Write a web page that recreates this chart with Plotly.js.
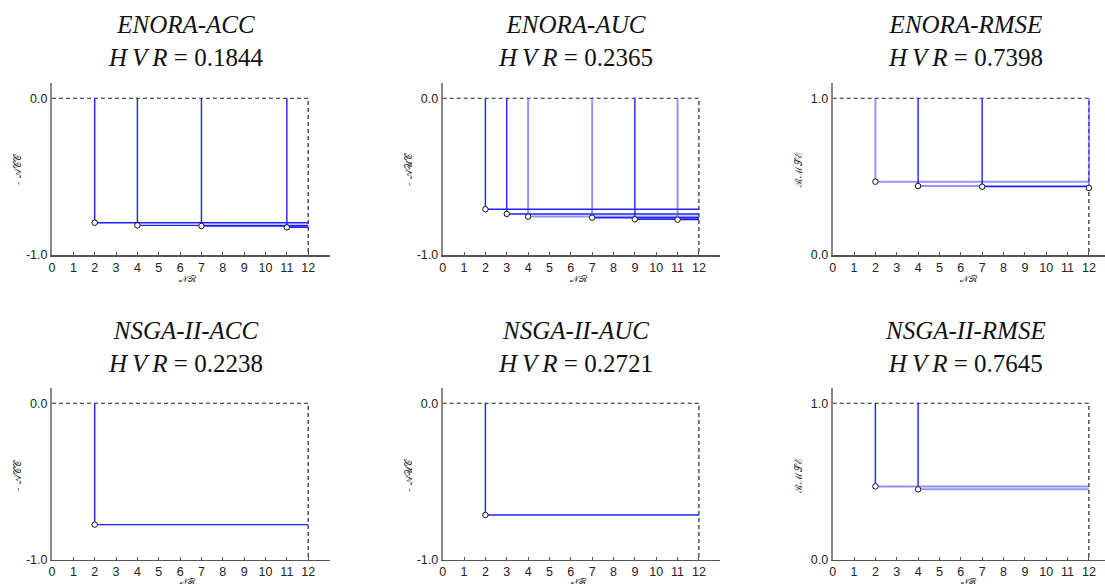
<!DOCTYPE html>
<html>
<head>
<meta charset="utf-8">
<script src="https://cdn.plot.ly/plotly-3.0.1.min.js"></script>
<style>html,body{margin:0;padding:0;background:#fff;}#chart{width:1105px;height:587px;}</style>
</head>
<body>
<div id="chart"></div>
<script>
// ---- data ----
const enoraAccNR = [2, 4, 7, 11];
const enoraAccVal = [-0.794, -0.811, -0.815, -0.824];
const enoraAucNR = [2, 3, 4, 7, 9, 11];
const enoraAucVal = [-0.708, -0.738, -0.755, -0.762, -0.772, -0.774];
const enoraRmseNR = [2, 4, 7, 12];
const enoraRmseVal = [0.468, 0.440, 0.436, 0.428];
const nsgaAccNR = [2];
const nsgaAccVal = [-0.775];
const nsgaAucNR = [2];
const nsgaAucVal = [-0.714];
const nsgaRmseNR = [2, 4];
const nsgaRmseVal = [0.469, 0.450];

const panelTitles = ["ENORA-ACC", "ENORA-AUC", "ENORA-RMSE", "NSGA-II-ACC", "NSGA-II-AUC", "NSGA-II-RMSE"];
const hvrValues = ["0.1844", "0.2365", "0.7398", "0.2238", "0.2721", "0.7645"];
const yLabels = ["- \uD835\uDC9C\uD835\uDC9E\uD835\uDC9E", "- \uD835\uDC9C\uD835\uDCB0\uD835\uDC9E", "\u211B\u2133\uD835\uDCAE\u2130"];
const xLabel = "\uD835\uDCA9\u211B";
const maxNR = 12;

// ---- styling (not data) ----
const DARK = "rgba(20,20,255,0.95)";
const LIGHT = "rgba(60,60,255,0.55)";
// per point: [vertical colour, horizontal colour]
const lineStyles = [
  [[DARK, DARK], [DARK, DARK], [DARK, DARK], [DARK, DARK]],
  [[DARK, DARK], [DARK, DARK], [LIGHT, LIGHT], [LIGHT, DARK], [DARK, DARK], [LIGHT, DARK]],
  [[LIGHT, LIGHT], [DARK, LIGHT], [DARK, DARK], [LIGHT, DARK]],
  [[DARK, DARK]],
  [[DARK, DARK]],
  [[DARK, LIGHT], [DARK, LIGHT]]
];

const series = [
  {x: enoraAccNR, y: enoraAccVal, top: 0, bottom: -1},
  {x: enoraAucNR, y: enoraAucVal, top: 0, bottom: -1},
  {x: enoraRmseNR, y: enoraRmseVal, top: 1, bottom: 0},
  {x: nsgaAccNR, y: nsgaAccVal, top: 0, bottom: -1},
  {x: nsgaAucNR, y: nsgaAucVal, top: 0, bottom: -1},
  {x: nsgaRmseNR, y: nsgaRmseVal, top: 1, bottom: 0}
];

const W = 1105, H = 587;
const colX0 = [52, 442.7, 832.7];
const pxPerUnit = 21.35;
const rowTop = [82.6, 387.6];     // pixel of top of range
const rowBottom = [255, 559.8];   // pixel of bottom of range
const xLabelY = [279, 581.5];

const traces = [];
const layout = {
  width: W, height: H,
  margin: {l: 0, r: 0, t: 0, b: 0},
  paper_bgcolor: "#fff", plot_bgcolor: "#fff",
  showlegend: false,
  annotations: []
};

const tickFont = {family: "Liberation Sans, Arial, sans-serif", size: 12.5, color: "#222"};

series.forEach((s, i) => {
  const row = Math.floor(i / 3), col = i % 3;
  const ax = i === 0 ? "" : String(i + 1);
  const xa = "x" + ax, ya = "y" + ax;
  const x0 = colX0[col];
  let x1 = x0 + pxPerUnit * 13;
  let xmax = 13;
  if (x1 > W) { xmax = (W - x0) / pxPerUnit; x1 = W; }
  const span = s.top - s.bottom;
  layout["xaxis" + ax] = {
    domain: [x0 / W, x1 / W], anchor: ya,
    range: [0, xmax], fixedrange: true,
    tickmode: "array", tickvals: [0,1,2,3,4,5,6,7,8,9,10,11,12],
    ticks: "inside", ticklen: 3, tickcolor: "#555", tickwidth: 1,
    showline: true, linecolor: "#555", linewidth: 1.5,
    showgrid: false, zeroline: false,
    tickfont: tickFont
  };
  layout["yaxis" + ax] = {
    domain: [1 - rowBottom[row] / H, 1 - rowTop[row] / H], anchor: xa,
    range: [s.bottom, s.top + 0.1 * span], fixedrange: true,
    tickmode: "array", tickvals: [s.bottom, s.top],
    ticktext: [s.bottom.toFixed(1), s.top.toFixed(1)],
    ticks: "", showline: true, linecolor: "#888", linewidth: 2,
    showgrid: false, zeroline: false,
    tickfont: tickFont
  };
  // reference box (dashed)
  traces.push({
    type: "scatter", mode: "lines", xaxis: xa, yaxis: ya,
    x: [0, maxNR, maxNR], y: [s.top, s.top, s.bottom],
    line: {color: "#222", width: 1.2, dash: "4px,3px"}, hoverinfo: "skip"
  });
  // attainment lines
  s.x.forEach((xv, k) => {
    const st = lineStyles[i][k];
    traces.push({
      type: "scatter", mode: "lines", xaxis: xa, yaxis: ya,
      x: [xv, xv], y: [s.top, s.y[k]],
      line: {color: st[0], width: st[0] === LIGHT ? 2 : 1.4}, hoverinfo: "skip"
    });
    traces.push({
      type: "scatter", mode: "lines", xaxis: xa, yaxis: ya,
      x: [xv, maxNR], y: [s.y[k], s.y[k]],
      line: {color: st[1], width: st[1] === LIGHT ? 2 : 1.4}, hoverinfo: "skip"
    });
  });
  // points
  traces.push({
    type: "scatter", mode: "markers", xaxis: xa, yaxis: ya,
    x: s.x, y: s.y, cliponaxis: false,
    marker: {symbol: "circle", size: 5.5, color: "#fff", line: {color: "#111", width: 1}}
  });

  const cx = x0 + 133;
  const rowShift = row * 306;
  layout.annotations.push({
    xref: "paper", yref: "paper", x: cx / W, y: 1 - (41 + rowShift) / H,
    xanchor: "center", yanchor: "middle", showarrow: false, align: "center",
    text: "<i>" + panelTitles[i] + "</i><br><i>H\u2009V\u2009R</i>\u00A0=\u00A0" + hvrValues[i],
    font: {family: "Liberation Serif, serif", size: 25, color: "#111"}
  });
  layout.annotations.push({
    xref: "paper", yref: "paper", x: (x0 - 35) / W, y: 1 - (169 + rowShift) / H,
    xanchor: "center", yanchor: "middle", showarrow: false, textangle: -90,
    text: yLabels[col],
    font: {family: "DejaVu Serif, serif", size: 10, color: "#333"}
  });
  layout.annotations.push({
    xref: "paper", yref: "paper", x: (x0 + 136) / W, y: 1 - xLabelY[row] / H,
    xanchor: "center", yanchor: "middle", showarrow: false,
    text: xLabel,
    font: {family: "DejaVu Serif, serif", size: row === 0 ? 9 : 8, color: "#333"}
  });
});

Plotly.newPlot("chart", traces, layout, {staticPlot: true, displayModeBar: false});
</script>
</body>
</html>
